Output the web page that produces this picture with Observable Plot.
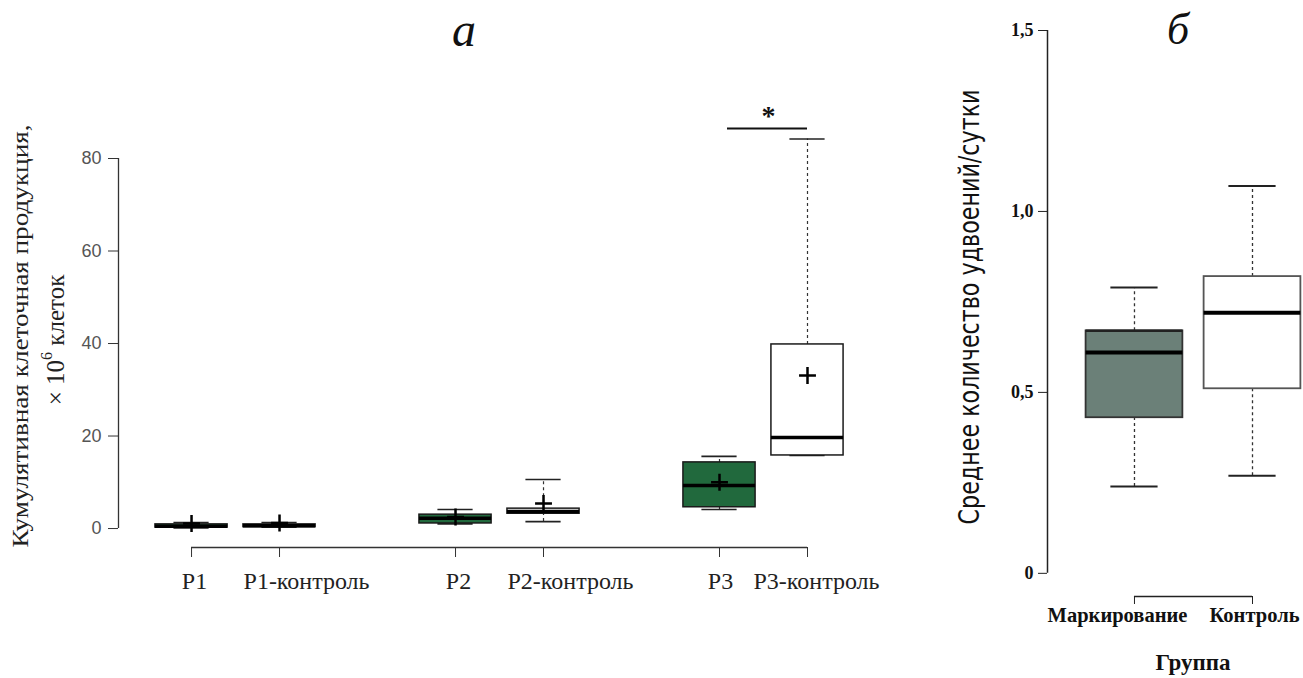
<!DOCTYPE html>
<html><head><meta charset="utf-8">
<script src="https://cdn.jsdelivr.net/npm/d3@7"></script>
<script src="https://cdn.jsdelivr.net/npm/@observablehq/plot@0.6"></script>
<style>
html,body{margin:0;padding:0;background:#fff;}
#wrap{position:relative;width:1303px;height:678px;overflow:hidden;}
#left{position:absolute;left:0;top:0;}
#right{position:absolute;left:900px;top:0;}
#ov{position:absolute;left:0;top:0;pointer-events:none;}
</style></head><body>
<div id="wrap"><div id="left"></div><div id="right"></div><svg id="ov" width="1303" height="678"></svg></div>
<script>
// ===== Panel а: cumulative cell production, ×10^6 cells =====
const groupsA  = ["P1", "P1-контроль", "P2", "P2-контроль", "P3", "P3-контроль"];
const slotA    = [1, 2, 4, 5, 7, 8];
const minA     = [0.1, 0.3, 1.0, 1.5, 4.1, 15.8];
const q1A      = [0.2, 0.3, 1.1, 3.2, 4.6, 15.8];
const medA     = [0.5, 0.6, 2.2, 3.7, 9.3, 19.7];
const q3A      = [0.9, 0.9, 3.0, 4.3, 14.3, 39.8];
const maxA     = [1.3, 1.3, 4.1, 10.6, 15.6, 84.2];
const meanA    = [1.1, 1.2, 2.5, 5.4, 10.0, 33.1];
const treatedA = [true, false, true, false, true, false];
const yTicksA  = [0, 20, 40, 60, 80];
const sigA     = [{from: "P3", to: "P3-контроль", y: 86.5, label: "*"}];

// ===== Panel б: mean doublings per day =====
const groupsB = ["Маркирование", "Контроль"];
const slotB   = [1, 2];
const minB    = [0.24, 0.27];
const q1B     = [0.43, 0.51];
const medB    = [0.61, 0.72];
const q3B     = [0.67, 0.82];
const maxB    = [0.79, 1.07];
const treatedB = [true, false];
const yTicksB = [0, 0.5, 1.0, 1.5];
const yTickLabelsB = ["0", "0,5", "1,0", "1,5"];

const rowsA = groupsA.map((g, i) => ({group: g, slot: slotA[i], min: minA[i], q1: q1A[i], med: medA[i], q3: q3A[i], max: maxA[i], mean: meanA[i], treated: treatedA[i]}));
const rowsB = groupsB.map((g, i) => ({group: g, slot: slotB[i], min: minB[i], q1: q1B[i], med: medB[i], q3: q3B[i], max: maxB[i], treated: treatedB[i]}));
const tickRowsB = yTicksB.map((v, i) => ({v, label: yTickLabelsB[i]}));
const slotOfA = g => slotA[groupsA.indexOf(g)];

const SERIF = "'Liberation Serif', 'Times New Roman', serif";
const SANS = "'Liberation Sans', Arial, sans-serif";

// label nudges (layout only)
const labelDxA = {"P1": 3, "P1-контроль": 27, "P2": 3, "P2-контроль": 27, "P3": 1, "P3-контроль": 9};
const labelDxB = {"Маркирование": -17, "Контроль": 2};

// ---- left panel
const xDomA = [0.17, 8], yDomA = [-4.1, 80];
const bwA = 0.41, capA = 0.2;
const leftLabels = Object.entries(labelDxA).map(([g, dx]) =>
  Plot.text(rowsA.filter(d => d.group === g), {x: "slot", text: "group", frameAnchor: "bottom", dy: 41, dx, fontSize: 24, fontFamily: SERIF, fill: "#222"}));
const left = Plot.plot({
  width: 900, height: 678,
  marginLeft: 118, marginRight: 0, marginTop: 0, marginBottom: 131,
  x: {type: "linear", domain: xDomA, range: [118, 807]},
  y: {type: "linear", domain: yDomA, range: [547, 158]},
  style: {background: "transparent", overflow: "visible"},
  marks: [
    Plot.axisY({ticks: yTicksA, tickSize: 10, tickFormat: () => "", stroke: "#333", label: null}),
    Plot.text(yTicksA, {x: xDomA[0], y: d => d, text: d => String(d), textAnchor: "end", dx: -17, fontSize: 18, fontFamily: SANS, fill: "#555"}),
    Plot.ruleX([xDomA[0]], {y1: yTicksA[0], y2: yTicksA[yTicksA.length - 1], stroke: "#333", strokeWidth: 1.3}),
    Plot.axisX({ticks: slotA, tickSize: 10, tickFormat: () => "", stroke: "#333", label: null}),
    Plot.ruleY([yDomA[0]], {x1: slotA[0], x2: slotA[slotA.length - 1], stroke: "#333", strokeWidth: 1.3}),
    ...leftLabels,
    // whiskers
    Plot.ruleX(rowsA, {x: "slot", y1: "q3", y2: "max", stroke: "#333", strokeWidth: 1.2, strokeDasharray: "3,3"}),
    Plot.ruleX(rowsA, {x: "slot", y1: "min", y2: "q1", stroke: "#333", strokeWidth: 1.2, strokeDasharray: "3,3"}),
    Plot.ruleY(rowsA, {y: "max", x1: d => d.slot - capA, x2: d => d.slot + capA, stroke: "#222", strokeWidth: 1.6}),
    Plot.ruleY(rowsA, {y: "min", x1: d => d.slot - capA, x2: d => d.slot + capA, stroke: "#222", strokeWidth: 1.6}),
    // boxes
    Plot.rect(rowsA.filter(d => d.treated), {x1: d => d.slot - bwA, x2: d => d.slot + bwA, y1: "q1", y2: "q3", fill: "#21693d", stroke: "#1a1a1a", strokeWidth: 1.5}),
    Plot.rect(rowsA.filter(d => !d.treated), {x1: d => d.slot - bwA, x2: d => d.slot + bwA, y1: "q1", y2: "q3", fill: "#ffffff", stroke: "#1a1a1a", strokeWidth: 1.5}),
    Plot.ruleY(rowsA, {y: "med", x1: d => d.slot - bwA, x2: d => d.slot + bwA, stroke: "#000", strokeWidth: 3.5}),
    Plot.dot(rowsA, {x: "slot", y: "mean", symbol: "plus", r: 5.5, stroke: "#000", strokeWidth: 2.5}),
    // significance
    Plot.ruleY(sigA, {y: "y", x1: d => slotOfA(d.from), x2: d => slotOfA(d.to), insetLeft: 8, stroke: "#111", strokeWidth: 2}),
    Plot.text(sigA, {x: d => (slotOfA(d.from) + slotOfA(d.to)) / 2, y: "y", text: "label", dy: -12, dx: 5, fontSize: 28, fontWeight: "bold", fontFamily: SERIF, fill: "#111"})
  ]
});
document.getElementById("left").appendChild(left);

// ---- right panel
const xDomB = [0.263, 2], yDomB = [-0.064, 1.5];
const bwB = 0.41, capB = 0.2;
const rightLabels = Object.entries(labelDxB).map(([g, dx]) =>
  Plot.text(rowsB.filter(d => d.group === g), {x: "slot", text: "group", frameAnchor: "bottom", dy: 25, dx, fontSize: 20.5, fontWeight: "bold", fontFamily: SERIF, fill: "#111"}));
const right = Plot.plot({
  width: 403, height: 678,
  marginLeft: 147, marginRight: 0, marginTop: 0, marginBottom: 82,
  x: {type: "linear", domain: xDomB, range: [147, 352]},
  y: {type: "linear", domain: yDomB, range: [596, 30]},
  style: {background: "transparent", overflow: "visible"},
  marks: [
    Plot.axisY({ticks: yTicksB, tickSize: 9, tickFormat: () => "", stroke: "#222", label: null}),
    Plot.text(tickRowsB, {x: xDomB[0], y: "v", text: "label", textAnchor: "end", dx: -14, fontSize: 18, fontWeight: "bold", fontFamily: SERIF, fill: "#111"}),
    Plot.ruleX([xDomB[0]], {y1: yTicksB[0], y2: yTicksB[yTicksB.length - 1], stroke: "#222", strokeWidth: 1.5}),
    Plot.axisX({ticks: slotB, tickSize: 8, tickFormat: () => "", stroke: "#222", label: null}),
    Plot.ruleY([yDomB[0]], {x1: slotB[0], x2: slotB[slotB.length - 1], stroke: "#222", strokeWidth: 1.3}),
    ...rightLabels,
    Plot.ruleX(rowsB, {x: "slot", y1: "q3", y2: "max", stroke: "#333", strokeWidth: 1.3, strokeDasharray: "3,3"}),
    Plot.ruleX(rowsB, {x: "slot", y1: "min", y2: "q1", stroke: "#333", strokeWidth: 1.3, strokeDasharray: "3,3"}),
    Plot.ruleY(rowsB, {y: "max", x1: d => d.slot - capB, x2: d => d.slot + capB, stroke: "#222", strokeWidth: 2}),
    Plot.ruleY(rowsB, {y: "min", x1: d => d.slot - capB, x2: d => d.slot + capB, stroke: "#222", strokeWidth: 2}),
    Plot.rect(rowsB.filter(d => d.treated), {x1: d => d.slot - bwB, x2: d => d.slot + bwB, y1: "q1", y2: "q3", fill: "#6b8078", stroke: "#333", strokeWidth: 1.8}),
    Plot.rect(rowsB.filter(d => !d.treated), {x1: d => d.slot - bwB, x2: d => d.slot + bwB, y1: "q1", y2: "q3", fill: "#ffffff", stroke: "#555", strokeWidth: 1.8}),
    Plot.ruleY(rowsB.filter(d => d.treated), {y: "q3", x1: d => d.slot - bwB, x2: d => d.slot + bwB, stroke: "#222", strokeWidth: 2.5}),
    Plot.ruleY(rowsB, {y: "med", x1: d => d.slot - bwB, x2: d => d.slot + bwB, stroke: "#000", strokeWidth: 4})
  ]
});
document.getElementById("right").appendChild(right);

// ---- titles and axis titles
const ov = d3.select("#ov");
ov.append("text").attr("x", 464).attr("y", 46).attr("text-anchor", "middle")
  .style("font-family", SERIF).style("font-style", "italic").style("font-size", "48px").attr("fill", "#111").text("а");
ov.append("text").attr("x", 1178).attr("y", 44).attr("text-anchor", "middle")
  .style("font-family", SERIF).style("font-style", "italic").style("font-size", "44px").attr("fill", "#111").text("б");
ov.append("text").attr("transform", "translate(20,336) rotate(-90)").attr("text-anchor", "middle").attr("dominant-baseline", "central")
  .attr("textLength", 423).attr("lengthAdjust", "spacingAndGlyphs")
  .style("font-family", SERIF).style("font-size", "24px").attr("fill", "#222").text("Кумулятивная клеточная продукция,");
const l2 = ov.append("text").attr("transform", "translate(55,340) rotate(-90)").attr("text-anchor", "middle").attr("dominant-baseline", "central")
  .style("font-family", SERIF).style("font-size", "25px").attr("fill", "#222");
l2.append("tspan").text("× 10");
l2.append("tspan").attr("dy", -9).style("font-size", "16px").text("6");
l2.append("tspan").attr("dy", 9).text(" клеток");
ov.append("text").attr("transform", "translate(969,307) rotate(-90)").attr("text-anchor", "middle").attr("dominant-baseline", "central")
  .attr("textLength", 435).attr("lengthAdjust", "spacingAndGlyphs")
  .style("font-family", "'Liberation Sans Narrow', 'DejaVu Sans Condensed', 'Liberation Sans', sans-serif").style("font-size", "28px").attr("fill", "#111")
  .text("Среднее количество удвоений/сутки");
ov.append("text").attr("x", 1193).attr("y", 670).attr("text-anchor", "middle")
  .style("font-family", SERIF).style("font-weight", "bold").style("font-size", "23px").attr("fill", "#111").text("Группа");
</script>
</body></html>
